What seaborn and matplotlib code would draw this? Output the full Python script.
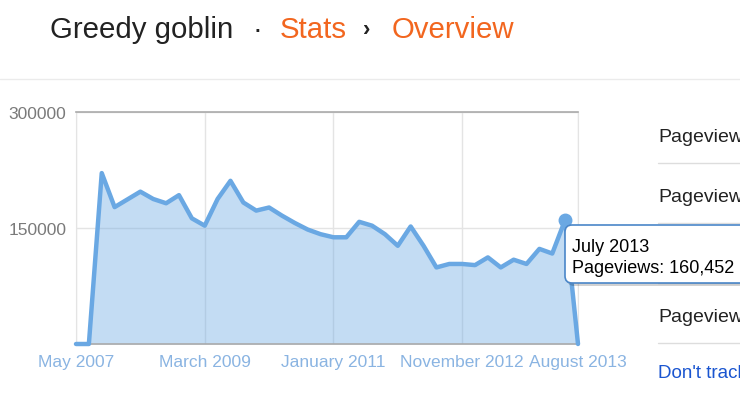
import matplotlib
matplotlib.use("Agg")
import matplotlib.pyplot as plt
import pandas as pd
import seaborn as sns
from matplotlib.patches import FancyBboxPatch

# --------------------------------------------------------------------------- #
# Data (read off the Blogger "all time" stats chart)
# --------------------------------------------------------------------------- #
point_index = list(range(40))
pageviews = [0, 0, 221000, 177000, 187000, 197000, 187500, 182000, 192500, 162500,
             153000, 187500, 211000, 183000, 172500, 176500, 166000, 156500, 148000, 142000,
             138000, 138000, 158000, 153000, 142000, 127000, 152000, 127000, 99000, 103500,
             103500, 102000, 112000, 99000, 109000, 103500, 123000, 117000, 160452, 0]
x_tick_pos = [0, 10, 20, 30, 39]
x_tick_labels = ["May 2007", "March 2009", "January 2011", "November 2012", "August 2013"]
y_ticks = [150000, 300000]
tooltip_month = "July 2013"
tooltip_value = 160452
side_labels = ["Pageview", "Pageview", "Pageview"]
side_rows = [0, 1, 3]  # row 2 sits behind the tooltip

# --------------------------------------------------------------------------- #
# Styling
# --------------------------------------------------------------------------- #
LINE_COLOR = "#6aa8e3"
AXIS_TEXT = "#7a7a7a"
XTICK_COLOR = "#8ab4e2"
GRID_COLOR = "#e4e4e4"
ORANGE = "#f2661f"
DARK = "#222222"
W, H = 740, 402

sns.set_style("white")
plt.rcParams["font.family"] = ["Liberation Sans", "DejaVu Sans"]

df = pd.DataFrame({"idx": point_index, "views": pageviews})

fig = plt.figure(figsize=(W / 100, H / 100), dpi=100)
ax = fig.add_axes([76 / W, 1 - 345 / H, 502 / W, 232 / H])

ax.grid(True, color=GRID_COLOR, lw=1)
ax.set_axisbelow(True)
ax.fill_between(df["idx"], df["views"], color=LINE_COLOR, alpha=0.4, lw=0, zorder=2)
sns.lineplot(data=df, x="idx", y="views", ax=ax, color=LINE_COLOR, linewidth=3.2,
             zorder=3, clip_on=False)
hi = df[df["views"] == tooltip_value]
ax.plot(hi["idx"], hi["views"], "o", color=LINE_COLOR, ms=9, zorder=4, clip_on=False)

ax.set_xlim(0, 39)
ax.set_ylim(0, 300000)
ax.set_xticks(x_tick_pos, x_tick_labels)
ax.set_yticks(y_ticks, [str(v) for v in y_ticks])
ax.tick_params(axis="x", length=0, pad=7, labelsize=12.5, labelcolor=XTICK_COLOR)
ax.tick_params(axis="y", length=5, color="#cccccc", pad=2, labelsize=12.5, labelcolor=AXIS_TEXT)
ax.set_xlabel("")
ax.set_ylabel("")
for side in ["left", "right"]:
    ax.spines[side].set_color(GRID_COLOR)
for side in ["top", "bottom"]:
    ax.spines[side].set_color("#aaaaaa")
    ax.spines[side].set_linewidth(1.2)

# --------------------------------------------------------------------------- #
# Page chrome drawn in pixel coordinates
# --------------------------------------------------------------------------- #
ov = fig.add_axes([0, 0, 1, 1], zorder=10)
ov.set_xlim(0, W)
ov.set_ylim(H, 0)
ov.axis("off")
ov.patch.set_alpha(0)

ov.plot([0, W], [80, 80], color="#ebebeb", lw=1)
title_fs = 21.2
ov.text(50, 38, "Greedy goblin", color=DARK, fontsize=title_fs, va="baseline")
ov.text(257, 38, "·", color=DARK, fontsize=title_fs, va="baseline", ha="center")
ov.text(280, 38, "Stats", color=ORANGE, fontsize=title_fs, va="baseline")
ov.text(367, 36, "›", color=DARK, fontsize=16, va="baseline", ha="center", weight="bold")
ov.text(392, 38, "Overview", color=ORANGE, fontsize=title_fs, va="baseline")

for lab, row in zip(side_labels, side_rows):
    ov.text(658, 142 + 60 * row, lab, color=DARK, fontsize=14, va="baseline")
for row in range(4):
    ov.plot([658, W], [164 + 60 * row, 164 + 60 * row], color="#dddddd", lw=1)
ov.text(658, 378, "Don't track", color="#1a55d0", fontsize=13.5, va="baseline")

# tooltip
shadow = FancyBboxPatch((567, 229), 200, 58, boxstyle="round,pad=0,rounding_size=7",
                        fc="#000000", ec="none", alpha=0.18, zorder=5)
box = FancyBboxPatch((565, 226), 200, 58, boxstyle="round,pad=0,rounding_size=7",
                     fc="white", ec="#4a86c8", lw=1.2, zorder=6)
ov.add_patch(shadow)
ov.add_patch(box)
ov.text(572, 252, tooltip_month, color="black", fontsize=13, va="baseline", zorder=7)
ov.text(572, 273, f"Pageviews: {tooltip_value:,}", color="black", fontsize=13,
        va="baseline", zorder=7)

fig.savefig("out.png", dpi=100)
